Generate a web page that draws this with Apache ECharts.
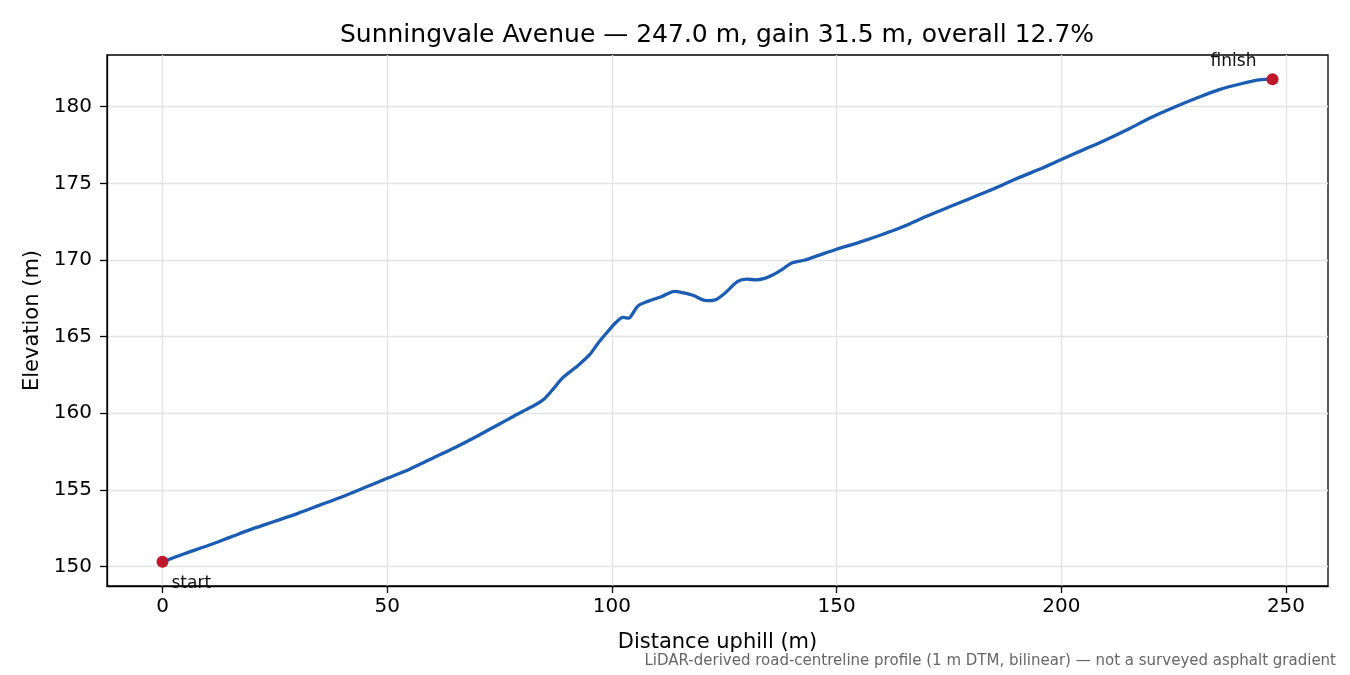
<!DOCTYPE html>
<html>
<head>
<meta charset="utf-8">
<script src="https://cdn.jsdelivr.net/npm/echarts@6/dist/echarts.min.js"></script>
<style>
  html, body { margin: 0; padding: 0; background: #fff; }
  #chart { width: 1350px; height: 675px; }
</style>
</head>
<body>
<div id="chart"></div>
<script>
// profile samples
var distance = [0, 5, 10, 15, 20, 25, 30, 35, 40, 45, 50, 55, 60, 65, 70, 75, 80, 83, 85, 87, 89, 92, 95, 97, 99,
  101, 102.5, 103.8, 104.5, 105.8, 108, 111, 114, 116, 118, 121, 123, 125, 128, 130, 132, 134, 136, 138, 140,
  143, 146, 150, 155, 160, 165, 170, 175, 180, 185, 190, 195, 200, 205, 210, 215, 220, 225, 230, 235, 240, 244, 247];
var elevation = [150.3, 150.85, 151.35, 151.9, 152.45, 152.95, 153.45, 154.0, 154.55, 155.15, 155.75, 156.35,
  157.05, 157.75, 158.5, 159.3, 160.1, 160.55, 160.95, 161.6, 162.3, 163.0, 163.8, 164.6, 165.3,
  165.95, 166.25, 166.2, 166.45, 167.0, 167.3, 167.6, 167.95, 167.85, 167.7, 167.35, 167.4, 167.8, 168.6, 168.75,
  168.7, 168.8, 169.05, 169.4, 169.8, 170.0, 170.3, 170.7, 171.15, 171.65, 172.2, 172.85, 173.45, 174.05, 174.65,
  175.3, 175.9, 176.55, 177.2, 177.85, 178.55, 179.3, 179.95, 180.55, 181.1, 181.5, 181.75, 181.8];

var xTicks = [0, 50, 100, 150, 200, 250];
var yTicks = [150, 155, 160, 165, 170, 175, 180];

var titleText = 'Sunningvale Avenue \u2014 247.0 m, gain 31.5 m, overall 12.7%';
var footText = 'LiDAR-derived road-centreline profile (1 m DTM, bilinear) \u2014 not a surveyed asphalt gradient';

var font = 'DejaVu Sans';
var line = [];
for (var i = 0; i < distance.length; i++) {
  line.push([distance[i], elevation[i]]);
}
var last = distance.length - 1;

var option = {
  backgroundColor: '#ffffff',
  animation: false,
  textStyle: { fontFamily: font },
  title: {
    text: titleText,
    left: 712, top: 18,
    textAlign: 'center',
    textStyle: { fontFamily: font, fontSize: 25, fontWeight: 'normal', color: '#000' }
  },
  grid: {
    left: 107, right: 22, top: 55, bottom: 89,
    show: true, borderColor: '#000', borderWidth: 1.3, backgroundColor: 'transparent'
  },
  xAxis: {
    type: 'value',
    min: -12.35, max: 259.35,
    name: 'Distance uphill (m)',
    nameLocation: 'middle', nameGap: 46,
    nameTextStyle: { fontFamily: font, fontSize: 21, color: '#000' },
    axisLine: { show: true, onZero: false, lineStyle: { color: '#000', width: 1.3 } },
    axisTick: { show: true, length: 7, customValues: xTicks, lineStyle: { color: '#000', width: 1.3 } },
    axisLabel: { customValues: xTicks, fontFamily: font, fontSize: 20, color: '#000', margin: 11 },
    splitLine: { show: true, lineStyle: { color: '#e3e3e3', width: 1.3 } }
  },
  yAxis: {
    type: 'value',
    min: 148.725, max: 183.375,
    name: 'Elevation (m)',
    nameLocation: 'middle', nameGap: 62,
    nameTextStyle: { fontFamily: font, fontSize: 21, color: '#000' },
    axisLine: { show: true, onZero: false, lineStyle: { color: '#000', width: 1.3 } },
    axisTick: { show: true, length: 7, customValues: yTicks, lineStyle: { color: '#000', width: 1.3 } },
    axisLabel: { customValues: yTicks, fontFamily: font, fontSize: 20, color: '#000', margin: 15 },
    splitLine: { show: true, lineStyle: { color: '#e3e3e3', width: 1.3 } }
  },
  series: [
    {
      type: 'line',
      data: line,
      smooth: 0.3,
      showSymbol: false,
      lineStyle: { color: '#1b5db3', width: 3.3 },
      z: 2
    },
    {
      type: 'scatter',
      symbolSize: 12,
      itemStyle: { color: '#c0182a', opacity: 1 },
      z: 3,
      data: [
        {
          value: [distance[0], elevation[0]],
          label: { show: true, formatter: 'start', position: 'right', offset: [-2, 22], fontFamily: font, fontSize: 17, color: '#111' }
        },
        {
          value: [distance[last], elevation[last]],
          label: { show: true, formatter: 'finish', position: 'top', offset: [-39, 2], fontFamily: font, fontSize: 17, color: '#111' }
        }
      ]
    }
  ],
  graphic: [
    {
      type: 'text',
      right: 14, top: 654,
      style: { text: footText, fontFamily: font, fontSize: 15, fill: '#666' }
    }
  ]
};

var chart = echarts.init(document.getElementById('chart'));
chart.setOption(option);
</script>
</body>
</html>
